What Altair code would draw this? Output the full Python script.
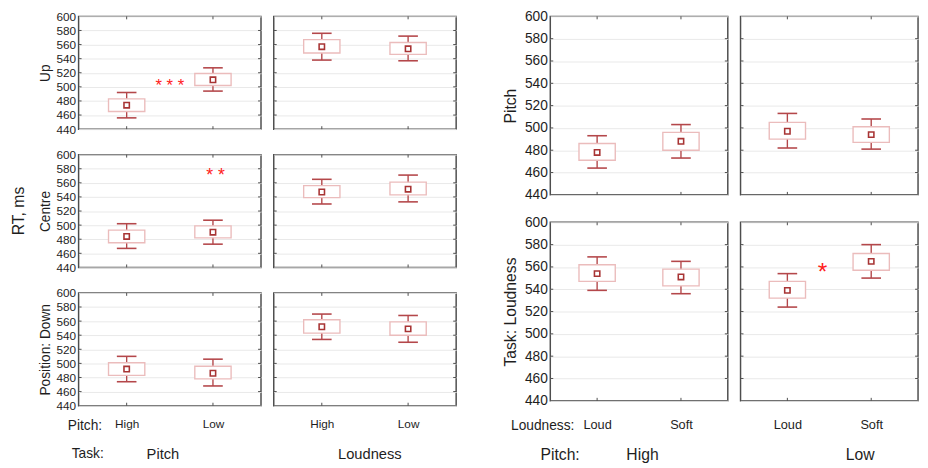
import altair as alt
import pandas as pd

FONT = "Liberation Sans"
Y_TICKS = [440, 460, 480, 500, 520, 540, 560, 580, 600]
Y_DOMAIN = [440, 600]

# ---- Left block: Position x Task x Pitch ----
L_rows = ["Up", "Centre", "Down"]
L_row_titles = ["Up", "Centre", "Position: Down"]
L_cols = ["Pitch", "Loudness"]
L_cats = ["High", "Low"]
L_position = ["Up"] * 4 + ["Centre"] * 4 + ["Down"] * 4
L_task = ["Pitch", "Pitch", "Loudness", "Loudness"] * 3
L_pitch = ["High", "Low"] * 6
L_mean = [474, 510, 557, 554, 484, 490, 547, 551, 492, 486, 552, 549]
L_box_lo = [465, 502, 548, 546, 475, 482, 539, 543, 483, 478, 543, 540]
L_box_hi = [483, 519, 567, 563, 493, 499, 556, 561, 501, 496, 562, 559]
L_wh_lo = [456, 494, 538, 537, 467, 473, 530, 533, 474, 468, 534, 530]
L_wh_hi = [492, 527, 576, 572, 502, 507, 565, 571, 510, 506, 570, 568]

# ---- Right block: Task x Pitch x Loudness ----
R_rows = ["Pitch", "Loudness"]
R_row_titles = ["Pitch", "Task: Loudness"]
R_cols = ["High", "Low"]
R_cats = ["Loud", "Soft"]
R_task = ["Pitch"] * 4 + ["Loudness"] * 4
R_pitch = ["High", "High", "Low", "Low"] * 2
R_loud = ["Loud", "Soft"] * 4
R_mean = [478, 488, 497, 494, 554, 551, 539, 565]
R_box_lo = [471, 480, 490, 487, 547, 543, 532, 557]
R_box_hi = [486, 496, 505, 501, 562, 558, 547, 572]
R_wh_lo = [464, 473, 482, 481, 539, 536, 524, 550]
R_wh_hi = [493, 503, 513, 508, 569, 565, 554, 580]

# ---- significance markers (x: 0.5 = first level, 1.5 = second level) ----
S_block = ["L", "L", "R"]
S_row = ["Up", "Centre", "Loudness"]
S_col = ["Pitch", "Pitch", "Low"]
S_x = [1.0, 1.53, 0.92]
S_y = [506, 575, 560]
S_text = ["* * *", "* *", "*"]
S_size = [17, 18, 25]

WHISK = "#b4474a"
BOXS = "#ebbcbc"
MEANS = "#a83434"
STAR = "#ff2020"
FRAME = "#4d4d4d"
GRID = "#e9e9e9"
TXT = "#1e1e1e"


def panel(df, cats, W, H, labels, ytitle, lab_fs, title_fs, title_pad,
          bottom, xlab_fs, xlab_pad, stars, notes):
    yscale = alt.Scale(domain=Y_DOMAIN, nice=False, zero=False)
    xscale = alt.Scale(domain=[0, 2], nice=False, zero=False)
    if labels:
        yaxis = alt.Axis(values=Y_TICKS, title=ytitle, titleFontSize=title_fs,
                         titleFontWeight="normal", titleColor=TXT, titlePadding=title_pad,
                         labelFontSize=lab_fs, labelColor=TXT, labelPadding=3,
                         ticks=False, domain=False, grid=True, gridColor=GRID)
    else:
        yaxis = alt.Axis(values=Y_TICKS, title=None, labels=False, ticks=False,
                         domain=False, grid=True, gridColor=GRID)
    if bottom:
        xaxis = alt.Axis(values=[0.5, 1.5],
                         labelExpr=f"datum.value < 1 ? '{cats[0]}' : '{cats[1]}'",
                         title=None, grid=False, ticks=False, domain=False,
                         labelFontSize=xlab_fs, labelPadding=xlab_pad, labelColor=TXT)
    else:
        xaxis = None

    def X(f):
        return alt.X(f, scale=xscale, axis=xaxis)

    def Y(f):
        return alt.Y(f, scale=yscale, axis=yaxis)

    base = alt.Chart(df)
    tick_df = pd.DataFrame({"v": Y_TICKS[1:-1]})
    layers = [
        alt.Chart(tick_df).mark_rule(color=FRAME, strokeWidth=1).encode(
            y=Y("v:Q"), x=alt.value(0), x2=alt.value(3)),
        alt.Chart(tick_df).mark_rule(color=FRAME, strokeWidth=1).encode(
            y=Y("v:Q"), x=alt.value(W - 3), x2=alt.value(W)),
        base.mark_rule(color=FRAME, strokeWidth=1).encode(
            x=X("xpos:Q"), y=alt.value(0), y2=alt.value(3)),
        base.mark_rule(color=FRAME, strokeWidth=1).encode(
            x=X("xpos:Q"), y=alt.value(H - 3), y2=alt.value(H)),
        base.mark_rule(color=WHISK, strokeWidth=1.4).encode(
            x=X("xpos:Q"), y=Y("wlo:Q"), y2="whi:Q"),
        base.mark_tick(orient="horizontal", size=20, thickness=1.6, color=WHISK, opacity=1).encode(
            x=X("xpos:Q"), y=Y("wlo:Q")),
        base.mark_tick(orient="horizontal", size=20, thickness=1.6, color=WHISK, opacity=1).encode(
            x=X("xpos:Q"), y=Y("whi:Q")),
        base.mark_bar(size=37, fill="white", stroke=BOXS, strokeWidth=1.4).encode(
            x=X("xpos:Q"), y=Y("blo:Q"), y2="bhi:Q"),
        base.mark_point(shape="square", size=30, filled=True, fill="white",
                        stroke=MEANS, strokeWidth=1.6, opacity=1).encode(
            x=X("xpos:Q"), y=Y("mean:Q")),
    ]
    for (sx, sy, st, ss) in stars:
        sdf = pd.DataFrame({"sx": [sx], "sy": [sy], "st": [st]})
        layers.append(alt.Chart(sdf).mark_text(color=STAR, fontSize=ss, baseline="middle",
                                               dy=ss * 0.22, font=FONT).encode(
            x=X("sx:Q"), y=Y("sy:Q"), text="st:N"))
    for (txt, px, py, fs, align, angle) in notes:
        layers.append(alt.Chart(pd.DataFrame({"t": [txt]})).mark_text(
            fontSize=fs, align=align, baseline="middle", angle=angle, color=TXT,
            font=FONT).encode(x=alt.value(px), y=alt.value(py), text="t:N"))
    return alt.layer(*layers).properties(width=W, height=H)


def block_df(rowf, colf, catf, cats, mean, blo, bhi, wlo, whi):
    d = pd.DataFrame({"row": rowf, "col": colf, "cat": catf, "mean": mean,
                      "blo": blo, "bhi": bhi, "wlo": wlo, "whi": whi})
    d["xpos"] = d["cat"].map({cats[0]: 0.5, cats[1]: 1.5})
    return d


L = block_df(L_position, L_task, L_pitch, L_cats, L_mean, L_box_lo, L_box_hi, L_wh_lo, L_wh_hi)
R = block_df(R_task, R_pitch, R_loud, R_cats, R_mean, R_box_lo, R_box_hi, R_wh_lo, R_wh_hi)


def stars_for(block, row, col):
    return [(S_x[i], S_y[i], S_text[i], S_size[i]) for i in range(len(S_x))
            if S_block[i] == block and S_row[i] == row and S_col[i] == col]


# ---- left block ----
WL, HL = 186, 115
left_rows = []
for ri, (r, rt) in enumerate(zip(L_rows, L_row_titles)):
    cells = []
    for ci, c in enumerate(L_cols):
        notes = []
        bottom = ri == len(L_rows) - 1
        if r == "Centre" and ci == 0:
            notes.append(("RT, ms", -61, HL / 2, 16, "center", 270))
        if bottom and ci == 0:
            notes += [("Pitch:", -11, 136, 14, "left", 0),
                      ("Task:", -7, 164, 14, "left", 0),
                      (c, 86, 164, 15, "center", 0)]
        if bottom and ci == 1:
            notes += [(c, 98, 164, 15, "center", 0)]
        cells.append(panel(L[(L["row"] == r) & (L["col"] == c)], L_cats, WL, HL,
                           ci == 0, rt, 12, 14, 4, bottom, 12, 13,
                           stars_for("L", r, c), notes))
    left_rows.append(alt.hconcat(*cells, spacing=9))
left = alt.vconcat(*left_rows, spacing=12)

# ---- right block ----
WR, HR = 181, 182
right_rows = []
for ri, (r, rt) in enumerate(zip(R_rows, R_row_titles)):
    cells = []
    for ci, c in enumerate(R_cols):
        notes = []
        bottom = ri == len(R_rows) - 1
        if bottom and ci == 0:
            notes += [("Loudness:", -40, 208, 14, "left", 0),
                      ("Pitch:", -10, 237, 16, "left", 0),
                      (c, 94, 237, 16, "center", 0)]
        if bottom and ci == 1:
            notes += [(c, 122, 237, 16, "center", 0)]
        cells.append(panel(R[(R["row"] == r) & (R["col"] == c)], R_cats, WR, HR,
                           ci == 0, rt, 14, 16, 6, bottom, 13, 18,
                           stars_for("R", r, c), notes))
    right_rows.append(alt.hconcat(*cells, spacing=9))
right = alt.vconcat(*right_rows, spacing=12)

chart = alt.hconcat(left, right, spacing=44).properties(
    padding={"left": 2, "top": -4, "right": 0, "bottom": 0}
).configure(font=FONT).configure_view(stroke=FRAME, strokeWidth=1.5)

chart.save("out.html", embed_options={"renderer": "svg", "actions": False})
